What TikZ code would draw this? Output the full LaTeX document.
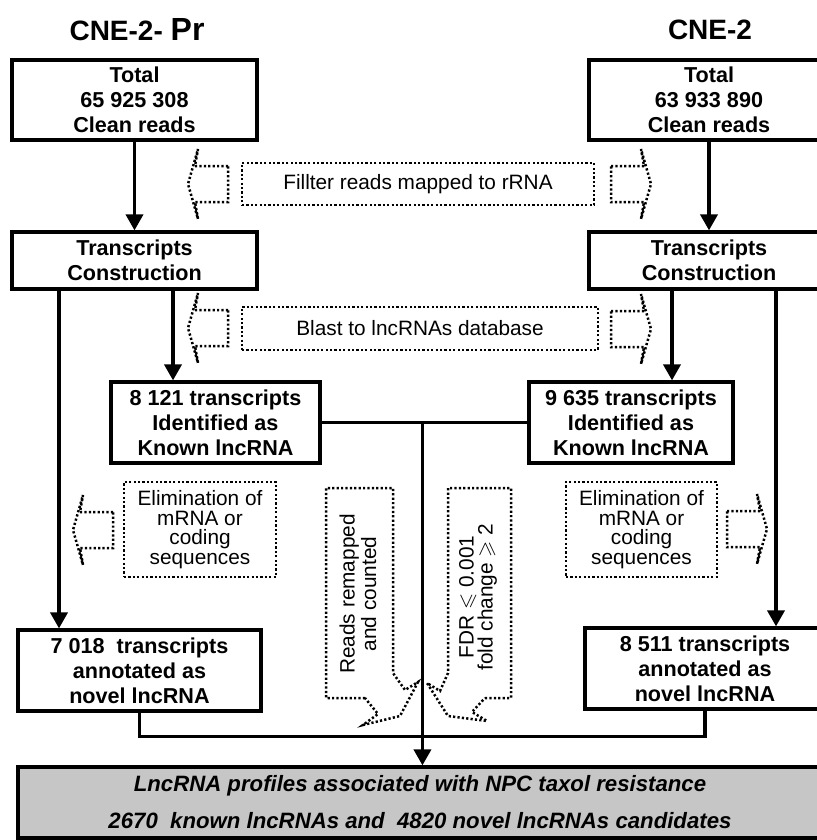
\documentclass[tikz,border=0pt]{standalone}
\usepackage{amssymb}
\usepackage{fontspec}
\setmainfont{Liberation Sans}
\usetikzlibrary{arrows.meta, positioning, calc}

\begin{document}
\begin{tikzpicture}[
        x=0.5pt, y=-0.5pt,
        stage/.style={rectangle, draw=black, line width=1.6pt, fill=white, inner sep=0pt, align=center, font=\fontsize{10.8}{12.5}\selectfont\bfseries},
        note/.style={rectangle, draw=black, line width=1.25pt, dash pattern=on 1.1pt off 1.1pt, inner sep=0pt, align=center, font=\fontsize{10.4}{9.8}\selectfont},
        dotline/.style={draw=black, line width=1.25pt, dash pattern=on 1.1pt off 1.1pt, line join=miter},
        flow/.style={line width=1.8pt, -{Triangle[length=8pt,width=8.5pt]}},
        link/.style={line width=1.6pt},
        title/.style={font=\fontsize{14}{16}\selectfont\bfseries}
    ]
        \useasboundingbox (0,0) rectangle (817,840);
        \clip (0,0) rectangle (817,840);
        \fill[white] (0,0) rectangle (817,840);

        \node[title] (hdL) at (137,30) {CNE-2- {\fontsize{16}{16}\selectfont Pr}};
        \node[title] (hdR) at (710,30) {CNE-2};

        \node[stage, minimum width=122.5pt, minimum height=40pt] (totL) at (134.5,100) {Total\\65 925 308\\Clean reads};
        \node[stage, minimum width=120pt, minimum height=40pt] (totR) at (709,100) {Total\\63 933 890\\Clean reads};
        \node[stage, minimum width=122.5pt, minimum height=28.5pt] (trL) at (134.5,260.5) {Transcripts\\Construction};
        \node[stage, minimum width=120pt, minimum height=28.5pt] (trR) at (709,260.5) {Transcripts\\Construction};
        \node[stage, minimum width=104.5pt, minimum height=40.5pt] (knL) at (215.5,422.5) {8 121 transcripts\\Identified as\\Known lncRNA};
        \node[stage, minimum width=102pt, minimum height=40.5pt] (knR) at (631,422.5) {9 635 transcripts\\Identified as\\Known lncRNA};
        \node[stage, minimum width=121.5pt, minimum height=40.5pt] (novL) at (139.5,670.5) {7 018\ \ transcripts\\annotated as\\novel lncRNA};
        \node[stage, minimum width=120pt, minimum height=40.5pt] (novR) at (705,668.5) {8 511 transcripts\\annotated as\\novel lncRNA};
        \node[stage, fill=gray!45, minimum width=402pt, minimum height=35.5pt, font=\fontsize{11.1}{18.5}\selectfont\bfseries\itshape] (res) at (420,802.5) {LncRNA profiles associated with NPC taxol resistance\\2670\ \ known lncRNAs and\ \ 4820 novel lncRNAs candidates};

        \node[note, minimum width=176pt, minimum height=21pt] (filt) at (418,184) {Fillter reads mapped to rRNA};
        \node[note, minimum width=178pt, minimum height=21.5pt] (blast) at (420,328.5) {Blast to lncRNAs database};
        \node[note, minimum width=76pt, minimum height=47.5pt] (elimL) at (200,529.5) {Elimination of\\mRNA or\\coding\\sequences};
        \node[note, minimum width=75.5pt, minimum height=47.5pt] (elimR) at (641.5,529.5) {Elimination of\\mRNA or\\coding\\sequences};

        \node[rotate=90, align=center, font=\fontsize{10.4}{9.4}\selectfont] (remap) at (358,594) {Reads remapped\\and counted};
        \node[rotate=90, align=center, font=\fontsize{10.4}{9.4}\selectfont] (fdr) at (478,597) {FDR $\leqslant$ 0.001\\fold change $\geqslant$ 2};
        \draw[dotline] (365,698) -- (326,698) -- (326,488) -- (393,488) -- (393,673) -- (405,690) -- (418,682) -- (400,716) -- (363,725) -- (378,714) -- cycle;
        \draw[dotline] (485,698) -- (511,698) -- (511,488) -- (448,488) -- (448,673) -- (440,691) -- (427,683) -- (448,716) -- (487,721) -- (472,712) -- cycle;

        \foreach \x/\y/\s in {228/184/-1, 611/184/1, 228/328/-1, 611/329/1, 113/530/-1, 727/529/1}
            \draw[dotline] (\x,{\y-18}) -- ({\x+\s*33},{\y-18}) -- ({\x+\s*30},{\y-35}) -- ({\x+\s*40},\y) -- ({\x+\s*30},{\y+35}) -- ({\x+\s*33},{\y+18}) -- (\x,{\y+18}) -- cycle;

        \draw[flow] (totL) -- (trL);
        \draw[flow] (totR) -- (trR);
        \coordinate (dropL) at ($(trL.south)+(38.5,0)$);
        \coordinate (longL) at ($(trL.south)+(-75.5,0)$);
        \coordinate (dropR) at ($(trR.south)+(-37,0)$);
        \coordinate (longR) at ($(trR.south)+(67,0)$);
        \draw[flow] (dropL) -- (dropL |- knL.north);
        \draw[flow] (longL) -- (longL |- novL.north);
        \draw[flow] (dropR) -- (dropR |- knR.north);
        \draw[flow] (longR) -- (longR |- novR.north);

        \draw[link] (knL.east) -- (knR.west);
        \coordinate (join) at ($(knL.east)!0.49!(knR.west)$);
        \draw[link] (novL.south) -- ++(0,24) -| (novR.south);
        \draw[flow] (join) -- (join |- res.north);
    \end{tikzpicture}
\end{document}
